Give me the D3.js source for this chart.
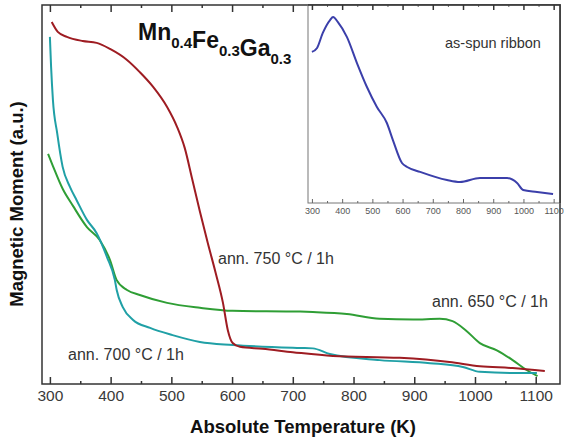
<!DOCTYPE html>
<html>
<head>
<meta charset="utf-8">
<script src="https://cdn.jsdelivr.net/npm/d3@7/dist/d3.min.js"></script>
<style>
  body { margin: 0; background: #fff; }
  svg { display: block; font-family: "Liberation Sans", Arial, sans-serif; }
</style>
</head>
<body>
<div id="chart"></div>
<script>
// main plot, temperature (K) vs magnetic moment (a.u., 0..100 of frame height)
const majorTicks = [300, 400, 500, 600, 700, 800, 900, 1000, 1100];
const minorTicks = [350, 450, 550, 650, 750, 850, 950, 1050];

const temp750 = [303, 313, 328, 354, 377, 399, 427, 448, 470, 493, 509, 522, 534, 547, 560, 573, 585, 593, 601, 613, 650, 700, 766, 876, 958, 1008, 1062, 1115];
const moment750 = [95.5, 92.9, 91.6, 90.5, 90.0, 88.4, 85.5, 82.3, 78.4, 73.1, 68.0, 62.3, 54.3, 45.5, 37.2, 29.3, 21.4, 14.2, 10.8, 9.8, 9.3, 8.4, 7.4, 6.9, 5.8, 4.7, 4.2, 3.4];

const temp700 = [300, 302, 305, 312, 321, 333, 344, 361, 377, 394, 407, 410, 420, 437, 465, 502, 547, 601, 712, 733, 761, 843, 926, 980, 1008, 1062, 1102];
const moment700 = [91.6, 83.6, 74.9, 66.2, 57.3, 52.0, 48.5, 43.3, 39.8, 33.5, 27.4, 24.8, 20.3, 16.9, 14.8, 12.9, 11.1, 10.3, 9.5, 9.4, 7.9, 6.3, 5.5, 4.5, 3.2, 2.9, 2.9];

const temp650 = [297, 305, 321, 338, 361, 382, 399, 410, 427, 448, 493, 547, 601, 712, 733, 789, 843, 898, 942, 963, 986, 1008, 1036, 1062, 1085, 1103];
const moment650 = [60.7, 57.5, 51.5, 47.0, 41.4, 38.0, 32.7, 27.4, 24.8, 23.5, 21.4, 20.1, 19.3, 19.1, 19.0, 18.5, 17.2, 17.0, 17.2, 16.6, 14.0, 10.8, 8.9, 6.3, 3.7, 2.1];

// inset: as-spun ribbon
const insetTicks = [300, 400, 500, 600, 700, 800, 900, 1000, 1100];
const insetMinor = [350, 450, 550, 650, 750, 850, 950, 1050];
const tempRibbon = [300, 317, 336, 360, 370, 386, 416, 449, 482, 515, 548, 568, 598, 615, 658, 747, 790, 856, 946, 979, 999, 1045, 1098];
const momentRibbon = [76.3, 78.3, 85.9, 92.4, 93.9, 91.4, 83.8, 70.7, 58.6, 48.5, 40.4, 31.8, 20.2, 18.2, 15.7, 11.6, 10.6, 12.6, 12.6, 10.1, 6.6, 5.6, 4.5];

const width = 565, height = 439;
const box = {left: 42, right: 560, top: 5, bottom: 384};
const ibox = {left: 308, right: 560, top: 5, bottom: 203};

const svg = d3.select("#chart").append("svg")
  .attr("width", width)
  .attr("height", height);

const x = d3.scaleLinear().domain([287, 1140]).range([box.left, box.right]);
const y = d3.scaleLinear().domain([0, 100]).range([box.bottom, box.top]);

const zip = (xs, ys) => xs.map((t, i) => ({t: t, v: ys[i]}));

const line = d3.line()
  .curve(d3.curveMonotoneX)
  .x(d => x(d.t))
  .y(d => y(d.v));

const ink = g => g.selectAll("line").attr("stroke", "#333").attr("stroke-width", 1.5);

// axes
svg.append("g")
  .attr("transform", `translate(0,${box.bottom})`)
  .call(d3.axisBottom(x).tickValues(majorTicks).tickSize(-7).tickPadding(6).tickFormat(d3.format("d")))
  .call(g => g.select(".domain").remove())
  .call(ink)
  .call(g => g.selectAll("text").attr("fill", "#3a3a3a").style("font-size", "15.5px"));

svg.append("g")
  .attr("transform", `translate(0,${box.bottom})`)
  .call(d3.axisBottom(x).tickValues(minorTicks).tickSize(-3).tickFormat(""))
  .call(g => g.select(".domain").remove())
  .call(ink);

svg.append("g")
  .attr("transform", `translate(0,${box.top})`)
  .call(d3.axisTop(x).tickValues(majorTicks).tickSize(-7).tickFormat(""))
  .call(g => g.select(".domain").remove())
  .call(ink);

svg.append("g")
  .attr("transform", `translate(0,${box.top})`)
  .call(d3.axisTop(x).tickValues(minorTicks).tickSize(-3).tickFormat(""))
  .call(g => g.select(".domain").remove())
  .call(ink);

// curves
const series = [
  {t: temp650, v: moment650, color: "#2f9e35"},
  {t: temp700, v: moment700, color: "#20a0a6"},
  {t: temp750, v: moment750, color: "#9e1c22"}
];

svg.selectAll(".curve")
  .data(series)
  .join("path")
  .attr("class", "curve")
  .attr("fill", "none")
  .attr("stroke", d => d.color)
  .attr("stroke-width", 2)
  .attr("d", d => line(zip(d.t, d.v)));

// frame
svg.append("rect")
  .attr("x", box.left).attr("y", box.top)
  .attr("width", box.right - box.left).attr("height", box.bottom - box.top)
  .attr("fill", "none").attr("stroke", "#333").attr("stroke-width", 1.5);

// labels
svg.append("text")
  .attr("x", 303).attr("y", 433)
  .attr("text-anchor", "middle")
  .style("font-size", "18.5px").style("font-weight", "bold")
  .attr("fill", "#111")
  .text("Absolute Temperature (K)");

svg.append("text")
  .attr("transform", "translate(23,204) rotate(-90)")
  .attr("text-anchor", "middle")
  .style("font-size", "18.5px").style("font-weight", "bold")
  .attr("fill", "#111")
  .text("Magnetic Moment (a.u.)");

const title = svg.append("text")
  .attr("x", 138).attr("y", 40)
  .style("font-size", "23px").style("font-weight", "bold")
  .attr("fill", "#111");
[["Mn", "0.4"], ["Fe", "0.3"], ["Ga", "0.3"]].forEach(([el, sub]) => {
  title.append("tspan").text(el);
  title.append("tspan").attr("dy", 8).style("font-size", "15px").text(sub);
  title.append("tspan").attr("dy", -8).text("");
});

const notes = [
  {text: "ann. 750 °C / 1h", x: 218, y: 264},
  {text: "ann. 650 °C / 1h", x: 432, y: 307},
  {text: "ann. 700 °C / 1h", x: 68, y: 360}
];
svg.selectAll(".note")
  .data(notes)
  .join("text")
  .attr("class", "note")
  .attr("x", d => d.x).attr("y", d => d.y)
  .style("font-size", "16px")
  .attr("fill", "#333")
  .text(d => d.text);

// inset
const ix = d3.scaleLinear().domain([287, 1121]).range([ibox.left, ibox.right]);
const iy = d3.scaleLinear().domain([0, 100]).range([ibox.bottom, ibox.top]);

const inset = svg.append("g");
inset.append("rect")
  .attr("x", ibox.left).attr("y", ibox.top)
  .attr("width", ibox.right - ibox.left).attr("height", ibox.bottom - ibox.top)
  .attr("fill", "#fff").attr("stroke", "#777").attr("stroke-width", 1);

inset.append("g")
  .attr("transform", `translate(0,${ibox.bottom})`)
  .call(d3.axisBottom(ix).tickValues(insetTicks).tickSize(-4).tickPadding(5).tickFormat(d3.format("d")))
  .call(g => g.select(".domain").remove())
  .call(g => g.selectAll("line").attr("stroke", "#666"))
  .call(g => g.selectAll("text").attr("fill", "#555").style("font-size", "9px"));

inset.append("g")
  .attr("transform", `translate(0,${ibox.bottom})`)
  .call(d3.axisBottom(ix).tickValues(insetMinor).tickSize(-2).tickFormat(""))
  .call(g => g.select(".domain").remove())
  .call(g => g.selectAll("line").attr("stroke", "#666"));

inset.append("g")
  .attr("transform", `translate(0,${ibox.top})`)
  .call(d3.axisTop(ix).tickValues(insetTicks).tickSize(-5).tickFormat(""))
  .call(g => g.select(".domain").remove())
  .call(ink);

inset.append("g")
  .attr("transform", `translate(0,${ibox.top})`)
  .call(d3.axisTop(ix).tickValues(insetMinor).tickSize(-2).tickFormat(""))
  .call(g => g.select(".domain").remove())
  .call(g => g.selectAll("line").attr("stroke", "#666"));

const iline = d3.line()
  .curve(d3.curveMonotoneX)
  .x(d => ix(d.t))
  .y(d => iy(d.v));

inset.append("path")
  .attr("fill", "none")
  .attr("stroke", "#3b3faa")
  .attr("stroke-width", 2)
  .attr("d", iline(zip(tempRibbon, momentRibbon)));

inset.append("text")
  .attr("x", 445).attr("y", 48)
  .style("font-size", "14.5px")
  .attr("fill", "#333")
  .text("as-spun ribbon");

// redraw top/right frame edges over the inset
svg.append("path")
  .attr("d", `M${ibox.left},${box.top}H${box.right}V${ibox.bottom}`)
  .attr("fill", "none").attr("stroke", "#333").attr("stroke-width", 1.5);
</script>
</body>
</html>
